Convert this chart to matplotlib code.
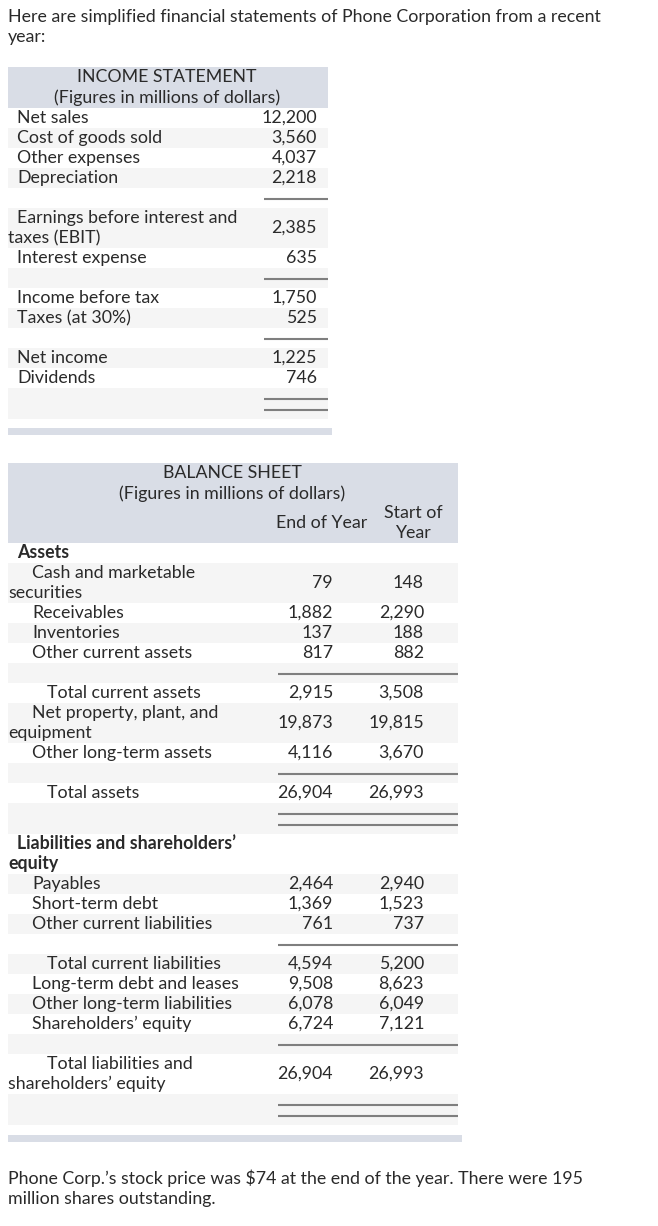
import matplotlib.pyplot as plt
from matplotlib.patches import Rectangle

plt.rcParams['font.family'] = ['Lato', 'DejaVu Sans']

# ---- texte
intro_lines = ["Here are simplified financial statements of Phone Corporation from a recent",
               "year:"]
footer_lines = ["Phone Corp.\u2019s stock price was $74 at the end of the year. There were 195",
                "million shares outstanding."]

# ---- income statement
is_title = ["INCOME STATEMENT", "(Figures in millions of dollars)"]
is_labels = ["Net sales", "Cost of goods sold", "Other expenses", "Depreciation", None,
             "Earnings before interest and\ntaxes (EBIT)", "Interest expense", None,
             "Income before tax", "Taxes (at 30%)", None, "Net income", "Dividends", None]
is_values = [12200, 3560, 4037, 2218, None, 2385, 635, None, 1750, 525, None, 1225, 746, None]

# ---- balance sheet
bs_title = ["BALANCE SHEET", "(Figures in millions of dollars)"]
bs_columns = ["End of Year", "Start of\nYear"]
bs_labels = ["Assets", "Cash and marketable\nsecurities", "Receivables", "Inventories",
             "Other current assets", None, "Total current assets",
             "Net property, plant, and\nequipment", "Other long-term assets", None,
             "Total assets", None, "Liabilities and shareholders\u2019\nequity", "Payables",
             "Short-term debt", "Other current liabilities", None, "Total current liabilities",
             "Long-term debt and leases", "Other long-term liabilities", "Shareholders\u2019 equity",
             None, "Total liabilities and\nshareholders\u2019 equity", None]
bs_end = [None, 79, 1882, 137, 817, None, 2915, 19873, 4116, None, 26904, None, None,
          2464, 1369, 761, None, 4594, 9508, 6078, 6724, None, 26904, None]
bs_start = [None, 148, 2290, 188, 882, None, 3508, 19815, 3670, None, 26993, None, None,
            2940, 1523, 737, None, 5200, 8623, 6049, 7121, None, 26993, None]

# styles (not data): rules under blank rows, indent level, bold headings
is_rules = [0, 0, 0, 0, 1, 0, 0, 1, 0, 0, 1, 0, 0, 2]
is_level = [0] * len(is_labels)
bs_rules = [0, 0, 0, 0, 0, 1, 0, 0, 0, 1, 0, 2, 0, 0, 0, 0, 1, 0, 0, 0, 0, 1, 0, 2]
bs_level = [0, 1, 1, 1, 1, 0, 2, 1, 1, 0, 2, 0, 0, 1, 1, 1, 0, 2, 1, 1, 1, 0, 2, 0]
bs_bold = {0, 12}

HEAD = '#d9dde6'
STRIPE = '#f5f5f5'
RULE = '#7f7f7f'
INK = '#2a2a2a'
FS = 12.8
INDENT = [17, 32, 47]

fig = plt.figure(figsize=(6.58, 12.26), dpi=100)
ax = fig.add_axes([0, 0, 1, 1])
ax.set_xlim(0, 658)
ax.set_ylim(1226, 0)
ax.axis('off')


def txt(x, y, s, ha='left', bold=False):
    ax.text(x, y, s, ha=ha, va='baseline', fontsize=FS, color=INK,
            fontweight='bold' if bold else 'normal')


def draw_rows(top, right, labels, columns, col_x, rules, levels, rule_x, bold=()):
    y = top
    for i, label in enumerate(labels):
        if rules[i] == 2:
            h = 31
        elif label is None:
            h = 20
        else:
            h = 20 * (label.count('\n') + 1)
        if i % 2 == 1:
            ax.add_patch(Rectangle((8, y), right - 8, h, facecolor=STRIPE, edgecolor='none'))
        if label is None:
            if rules[i] == 1:
                ax.hlines(y + 10.5, rule_x[0], rule_x[1], color=RULE, lw=1.5)
            else:
                ax.hlines([y + 10.5, y + 21.5], rule_x[0], rule_x[1], color=RULE, lw=1.5)
        else:
            lines = label.split('\n')
            for k, line in enumerate(lines):
                x = INDENT[levels[i]] if k == 0 else 8
                txt(x, y + 15 + 20 * k, line, bold=i in bold)
            for vals, cx in zip(columns, col_x):
                if vals[i] is not None:
                    txt(cx, y + 15 + 10 * (len(lines) - 1), f"{vals[i]:,}", ha='right')
        y += h
    return y


# intro
for k, line in enumerate(intro_lines):
    txt(8, 22 + 20 * k, line)

# income statement
ax.add_patch(Rectangle((8, 67), 320, 41, facecolor=HEAD, edgecolor='none'))
txt(167, 81.5, is_title[0], ha='center')
txt(167, 102.5, is_title[1], ha='center')
end = draw_rows(108, 328, is_labels, [is_values], [317], is_rules, is_level, (264, 328))
ax.add_patch(Rectangle((8, end + 9), 324, 7, facecolor=HEAD, edgecolor='none'))

# balance sheet
ax.add_patch(Rectangle((8, 463), 450, 80, facecolor=HEAD, edgecolor='none'))
txt(232, 478.5, bs_title[0], ha='center')
txt(232, 499, bs_title[1], ha='center')
txt(322, 528.5, bs_columns[0], ha='center')
for k, line in enumerate(bs_columns[1].split('\n')):
    txt(413, 518 + 20 * k, line, ha='center')
end = draw_rows(543, 458, bs_labels, [bs_end, bs_start], [333, 424], bs_rules, bs_level,
                (278, 458), bold=bs_bold)
ax.add_patch(Rectangle((8, end + 10), 454, 7, facecolor=HEAD, edgecolor='none'))

# footer
for k, line in enumerate(footer_lines):
    txt(8, 1184 + 20 * k, line)

plt.savefig('out.png', dpi=100)
